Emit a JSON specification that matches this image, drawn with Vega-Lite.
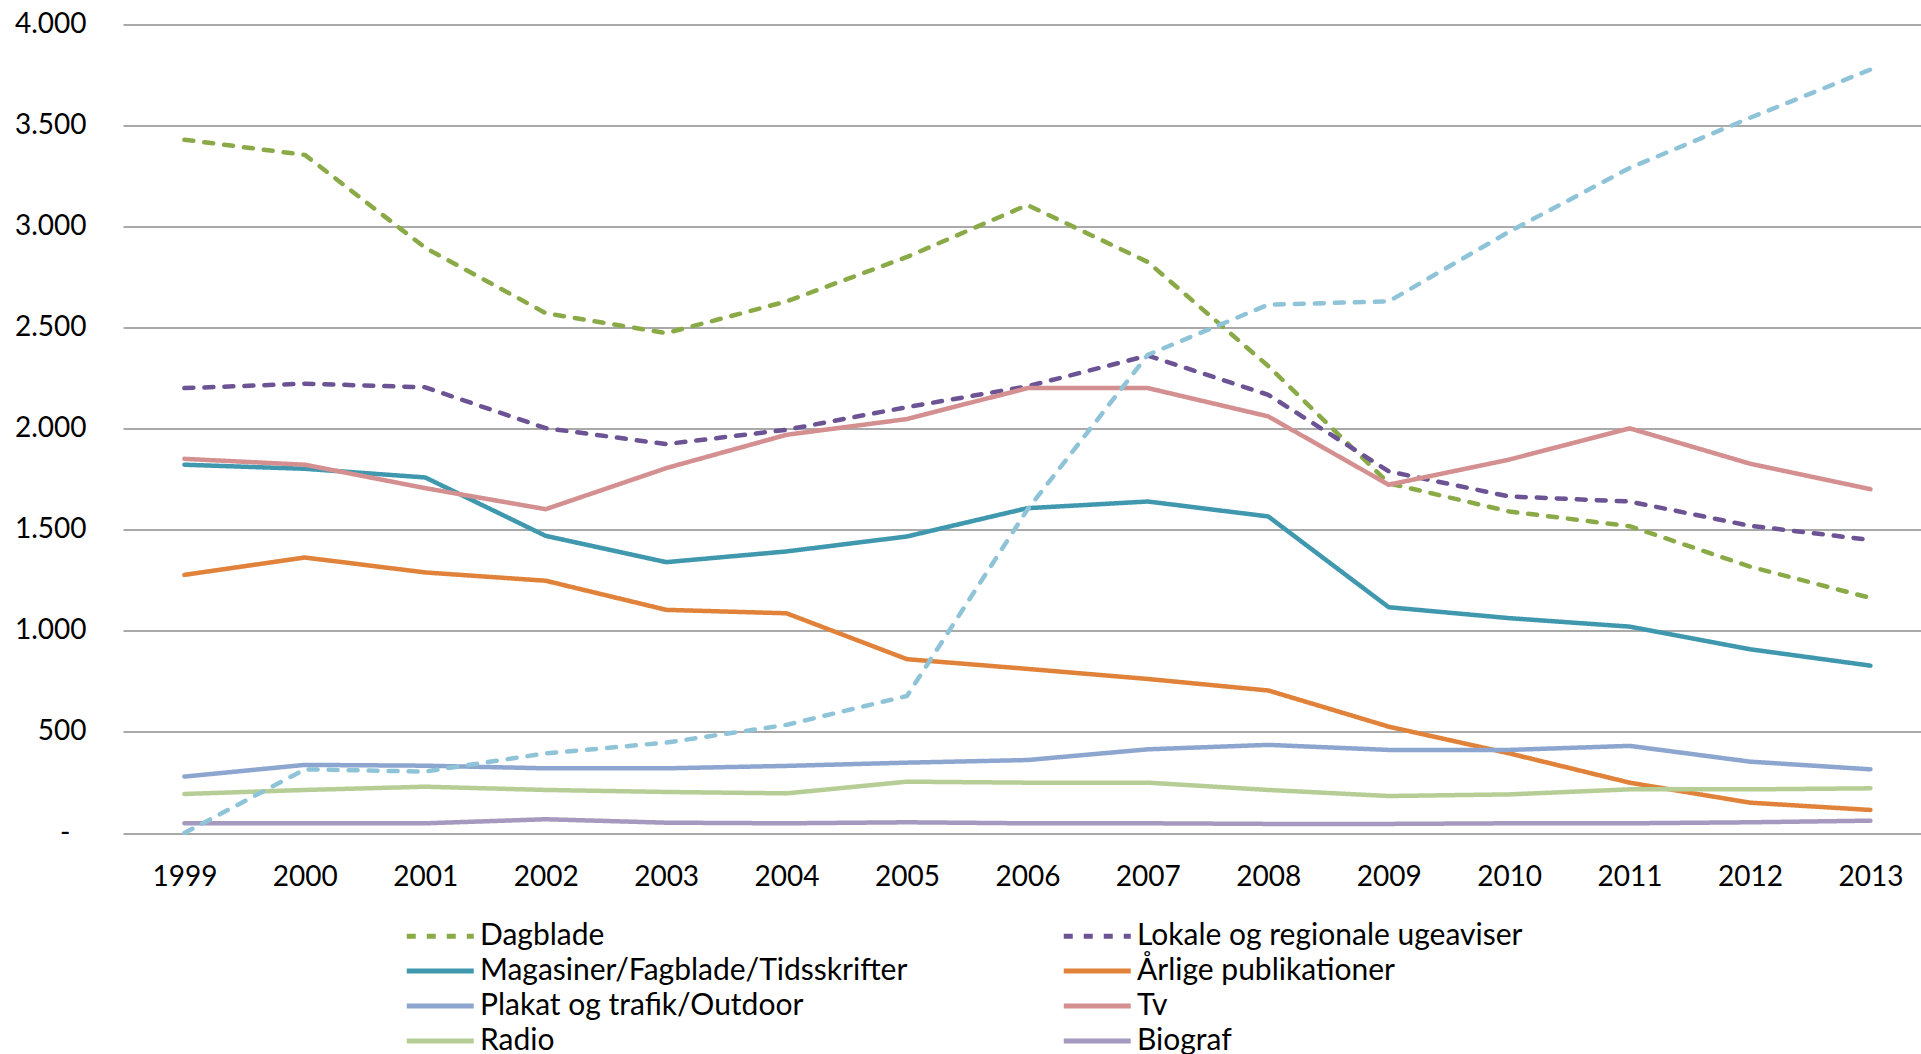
{
  "$schema": "https://vega.github.io/schema/vega-lite/v6.json",
  "autosize": {"type": "none"},
  "width": 1798,
  "height": 808.5,
  "padding": {"left": 123, "top": 24.5, "right": 0, "bottom": 221},
  "background": "white",
  "config": {
    "view": {"stroke": null},
    "font": "Lato",
    "axis": {"labelFont": "Lato", "labelColor": "#000000"}
  },
  "data": {"values": [
    {"year":1999,"medie":"Dagblade","value":3430},{"year":2000,"medie":"Dagblade","value":3355},{"year":2001,"medie":"Dagblade","value":2895},{"year":2002,"medie":"Dagblade","value":2572},{"year":2003,"medie":"Dagblade","value":2473},{"year":2004,"medie":"Dagblade","value":2630},{"year":2005,"medie":"Dagblade","value":2850},{"year":2006,"medie":"Dagblade","value":3107},{"year":2007,"medie":"Dagblade","value":2825},{"year":2008,"medie":"Dagblade","value":2310},{"year":2009,"medie":"Dagblade","value":1730},{"year":2010,"medie":"Dagblade","value":1591},{"year":2011,"medie":"Dagblade","value":1518},{"year":2012,"medie":"Dagblade","value":1318},{"year":2013,"medie":"Dagblade","value":1163},
    {"year":1999,"medie":"Lokale og regionale ugeaviser","value":2201},{"year":2000,"medie":"Lokale og regionale ugeaviser","value":2223},{"year":2001,"medie":"Lokale og regionale ugeaviser","value":2205},{"year":2002,"medie":"Lokale og regionale ugeaviser","value":2003},{"year":2003,"medie":"Lokale og regionale ugeaviser","value":1924},{"year":2004,"medie":"Lokale og regionale ugeaviser","value":1995},{"year":2005,"medie":"Lokale og regionale ugeaviser","value":2107},{"year":2006,"medie":"Lokale og regionale ugeaviser","value":2210},{"year":2007,"medie":"Lokale og regionale ugeaviser","value":2362},{"year":2008,"medie":"Lokale og regionale ugeaviser","value":2168},{"year":2009,"medie":"Lokale og regionale ugeaviser","value":1789},{"year":2010,"medie":"Lokale og regionale ugeaviser","value":1665},{"year":2011,"medie":"Lokale og regionale ugeaviser","value":1640},{"year":2012,"medie":"Lokale og regionale ugeaviser","value":1520},{"year":2013,"medie":"Lokale og regionale ugeaviser","value":1450},
    {"year":1999,"medie":"Magasiner/Fagblade/Tidsskrifter","value":1822},{"year":2000,"medie":"Magasiner/Fagblade/Tidsskrifter","value":1802},{"year":2001,"medie":"Magasiner/Fagblade/Tidsskrifter","value":1759},{"year":2002,"medie":"Magasiner/Fagblade/Tidsskrifter","value":1470},{"year":2003,"medie":"Magasiner/Fagblade/Tidsskrifter","value":1340},{"year":2004,"medie":"Magasiner/Fagblade/Tidsskrifter","value":1393},{"year":2005,"medie":"Magasiner/Fagblade/Tidsskrifter","value":1467},{"year":2006,"medie":"Magasiner/Fagblade/Tidsskrifter","value":1607},{"year":2007,"medie":"Magasiner/Fagblade/Tidsskrifter","value":1640},{"year":2008,"medie":"Magasiner/Fagblade/Tidsskrifter","value":1566},{"year":2009,"medie":"Magasiner/Fagblade/Tidsskrifter","value":1117},{"year":2010,"medie":"Magasiner/Fagblade/Tidsskrifter","value":1063},{"year":2011,"medie":"Magasiner/Fagblade/Tidsskrifter","value":1021},{"year":2012,"medie":"Magasiner/Fagblade/Tidsskrifter","value":909},{"year":2013,"medie":"Magasiner/Fagblade/Tidsskrifter","value":828},
    {"year":1999,"medie":"Årlige publikationer","value":1277},{"year":2000,"medie":"Årlige publikationer","value":1363},{"year":2001,"medie":"Årlige publikationer","value":1289},{"year":2002,"medie":"Årlige publikationer","value":1248},{"year":2003,"medie":"Årlige publikationer","value":1104},{"year":2004,"medie":"Årlige publikationer","value":1087},{"year":2005,"medie":"Årlige publikationer","value":860},{"year":2006,"medie":"Årlige publikationer","value":812},{"year":2007,"medie":"Årlige publikationer","value":762},{"year":2008,"medie":"Årlige publikationer","value":705},{"year":2009,"medie":"Årlige publikationer","value":526},{"year":2010,"medie":"Årlige publikationer","value":394},{"year":2011,"medie":"Årlige publikationer","value":249},{"year":2012,"medie":"Årlige publikationer","value":150},{"year":2013,"medie":"Årlige publikationer","value":114},
    {"year":1999,"medie":"Plakat og trafik/Outdoor","value":279},{"year":2000,"medie":"Plakat og trafik/Outdoor","value":337},{"year":2001,"medie":"Plakat og trafik/Outdoor","value":333},{"year":2002,"medie":"Plakat og trafik/Outdoor","value":320},{"year":2003,"medie":"Plakat og trafik/Outdoor","value":320},{"year":2004,"medie":"Plakat og trafik/Outdoor","value":332},{"year":2005,"medie":"Plakat og trafik/Outdoor","value":348},{"year":2006,"medie":"Plakat og trafik/Outdoor","value":361},{"year":2007,"medie":"Plakat og trafik/Outdoor","value":414},{"year":2008,"medie":"Plakat og trafik/Outdoor","value":436},{"year":2009,"medie":"Plakat og trafik/Outdoor","value":411},{"year":2010,"medie":"Plakat og trafik/Outdoor","value":411},{"year":2011,"medie":"Plakat og trafik/Outdoor","value":431},{"year":2012,"medie":"Plakat og trafik/Outdoor","value":353},{"year":2013,"medie":"Plakat og trafik/Outdoor","value":315},
    {"year":1999,"medie":"Tv","value":1851},{"year":2000,"medie":"Tv","value":1822},{"year":2001,"medie":"Tv","value":1706},{"year":2002,"medie":"Tv","value":1602},{"year":2003,"medie":"Tv","value":1805},{"year":2004,"medie":"Tv","value":1970},{"year":2005,"medie":"Tv","value":2048},{"year":2006,"medie":"Tv","value":2201},{"year":2007,"medie":"Tv","value":2201},{"year":2008,"medie":"Tv","value":2061},{"year":2009,"medie":"Tv","value":1723},{"year":2010,"medie":"Tv","value":1847},{"year":2011,"medie":"Tv","value":2002},{"year":2012,"medie":"Tv","value":1827},{"year":2013,"medie":"Tv","value":1701},
    {"year":1999,"medie":"Radio","value":193},{"year":2000,"medie":"Radio","value":213},{"year":2001,"medie":"Radio","value":229},{"year":2002,"medie":"Radio","value":213},{"year":2003,"medie":"Radio","value":203},{"year":2004,"medie":"Radio","value":196},{"year":2005,"medie":"Radio","value":254},{"year":2006,"medie":"Radio","value":249},{"year":2007,"medie":"Radio","value":249},{"year":2008,"medie":"Radio","value":213},{"year":2009,"medie":"Radio","value":183},{"year":2010,"medie":"Radio","value":191},{"year":2011,"medie":"Radio","value":216},{"year":2012,"medie":"Radio","value":216},{"year":2013,"medie":"Radio","value":221},
    {"year":1999,"medie":"Biograf","value":48},{"year":2000,"medie":"Biograf","value":48},{"year":2001,"medie":"Biograf","value":48},{"year":2002,"medie":"Biograf","value":68},{"year":2003,"medie":"Biograf","value":51},{"year":2004,"medie":"Biograf","value":48},{"year":2005,"medie":"Biograf","value":53},{"year":2006,"medie":"Biograf","value":48},{"year":2007,"medie":"Biograf","value":48},{"year":2008,"medie":"Biograf","value":45},{"year":2009,"medie":"Biograf","value":45},{"year":2010,"medie":"Biograf","value":48},{"year":2011,"medie":"Biograf","value":48},{"year":2012,"medie":"Biograf","value":53},{"year":2013,"medie":"Biograf","value":61},
    {"year":1999,"medie":"Internet","value":0},{"year":2000,"medie":"Internet","value":315},{"year":2001,"medie":"Internet","value":304},{"year":2002,"medie":"Internet","value":394},{"year":2003,"medie":"Internet","value":447},{"year":2004,"medie":"Internet","value":535},{"year":2005,"medie":"Internet","value":678},{"year":2006,"medie":"Internet","value":1600},{"year":2007,"medie":"Internet","value":2366},{"year":2008,"medie":"Internet","value":2614},{"year":2009,"medie":"Internet","value":2630},{"year":2010,"medie":"Internet","value":2975},{"year":2011,"medie":"Internet","value":3290},{"year":2012,"medie":"Internet","value":3538},{"year":2013,"medie":"Internet","value":3777}
  ]},
  "mark": {"type": "line", "strokeWidth": 4.5, "strokeCap": "round", "strokeJoin": "round"},
  "encoding": {
    "x": {
      "field": "year", "type": "quantitative",
      "scale": {"domain": [1998.49, 2013.42], "nice": false, "zero": false},
      "axis": {"title": null, "values": [1999,2000,2001,2002,2003,2004,2005,2006,2007,2008,2009,2010,2011,2012,2013], "format": "d", "labelAngle": 0, "domain": false, "ticks": false, "grid": false, "labelFontSize": 28, "labelPadding": 30, "labelColor": "#000000", "labelFlush": false, "labelOverlap": false}
    },
    "y": {
      "field": "value", "type": "quantitative",
      "scale": {"domain": [0, 4000], "nice": false},
      "axis": {"title": null, "values": [0,500,1000,1500,2000,2500,3000,3500,4000], "domain": false, "ticks": false, "grid": true, "gridColor": "#8c8c8c", "gridWidth": 1.6, "gridOpacity": 1, "labelFontSize": 28, "labelColor": "#000000",
        "labelPadding": {"condition": {"test": "datum.value == 0", "value": 53}, "value": 37},
        "labelExpr": "datum.value == 0 ? '-' : replace(format(datum.value, ','), ',', '.')"}
    },
    "color": {
      "field": "medie", "type": "nominal",
      "scale": {
        "domain": ["Dagblade","Magasiner/Fagblade/Tidsskrifter","Plakat og trafik/Outdoor","Radio","Internet","Lokale og regionale ugeaviser","Årlige publikationer","Tv","Biograf"],
        "range": ["#8AAA48","#3F98AE","#8DA6CF","#B6CE95","#8FC4D8","#6B5394","#E0823A","#D49090","#A699C0"]
      },
      "legend": {
        "title": null, "orient": "none", "legendX": 281, "legendY": 892, "columns": 2, "columnPadding": 145, "rowPadding": 0,
        "symbolType": "M-1,0H3", "symbolSize": 1122, "symbolStrokeWidth": 5, "labelFontSize": 30, "labelFont": "Lato", "labelColor": "#000000", "labelOffset": 37, "labelLimit": 800, "padding": 0
      }
    },
    "strokeDash": {
      "field": "medie", "type": "nominal",
      "scale": {
        "domain": ["Dagblade","Magasiner/Fagblade/Tidsskrifter","Plakat og trafik/Outdoor","Radio","Internet","Lokale og regionale ugeaviser","Årlige publikationer","Tv","Biograf"],
        "range": [[9,11],[1,0],[1,0],[1,0],[9,11],[9,11],[1,0],[1,0],[1,0]]
      },
      "legend": {
        "title": null, "orient": "none", "legendX": 281, "legendY": 892, "columns": 2, "columnPadding": 145, "rowPadding": 0,
        "symbolType": "M-1,0H3", "symbolSize": 1122, "symbolStrokeWidth": 5, "labelFontSize": 30, "labelFont": "Lato", "labelColor": "#000000", "labelOffset": 37, "labelLimit": 800, "padding": 0
      }
    }
  }
}
